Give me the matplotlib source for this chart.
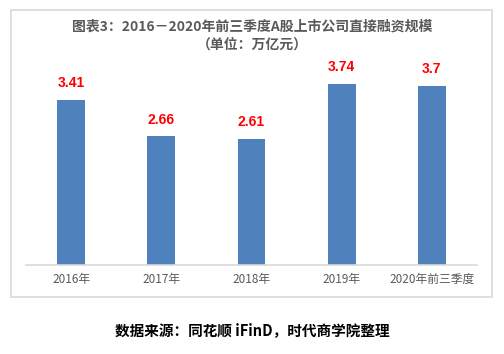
import matplotlib.pyplot as plt
import matplotlib.patches as patches

plt.rcParams['font.family'] = ['Noto Sans CJK SC', 'DejaVu Sans']

categories = ['2016年', '2017年', '2018年', '2019年', '2020年前三季度']
values = [3.41, 2.66, 2.61, 3.74, 3.7]
labels = ['3.41', '2.66', '2.61', '3.74', '3.7']

W, H = 504, 354
fig = plt.figure(figsize=(W / 100, H / 100), dpi=100)

# outer frame
box = patches.Rectangle((11 / W, 1 - 297 / H), 481 / W, 287 / H, transform=fig.transFigure,
                        fill=False, edgecolor='#d9d9d9', linewidth=1.2)
fig.patches.append(box)

ax = fig.add_axes([26 / W, 1 - 265 / H, 451 / W, 205 / H])
x = range(len(categories))
ax.bar(x, values, width=0.31, color='#4F81BD')
ax.set_xlim(-0.5, len(categories) - 0.5)
ax.set_ylim(0, 205 / 48.4)

for xi, v, lab in zip(x, values, labels):
    ax.annotate(lab, (xi, v), xytext=(0, 12), textcoords='offset points',
                ha='center', va='center', color='#ff0000', fontsize=10,
                fontweight='bold', family=['Liberation Sans', 'DejaVu Sans'])

ax.set_xticks(list(x))
ax.set_xticklabels(categories, fontsize=8.5, color='#595959')
ax.tick_params(axis='x', length=0, pad=6)
ax.set_yticks([])
for s in ['top', 'left', 'right']:
    ax.spines[s].set_visible(False)
ax.spines['bottom'].set_color('#d9d9d9')
ax.spines['bottom'].set_linewidth(1.2)

fig.text(0.5, 1 - 27 / H, '图表3：2016－2020年前三季度A股上市公司直接融资规模',
         ha='center', va='center', fontsize=10, fontweight='bold', color='#595959')
fig.text(0.5, 1 - 45 / H, '（单位：万亿元）',
         ha='center', va='center', fontsize=10, fontweight='bold', color='#595959')
fig.text(0.5, 1 - 330 / H, '数据来源：同花顺 iFinD，时代商学院整理',
         ha='center', va='center', fontsize=10.5, fontweight='bold', color='#000000')

fig.savefig('out.png', dpi=100)
